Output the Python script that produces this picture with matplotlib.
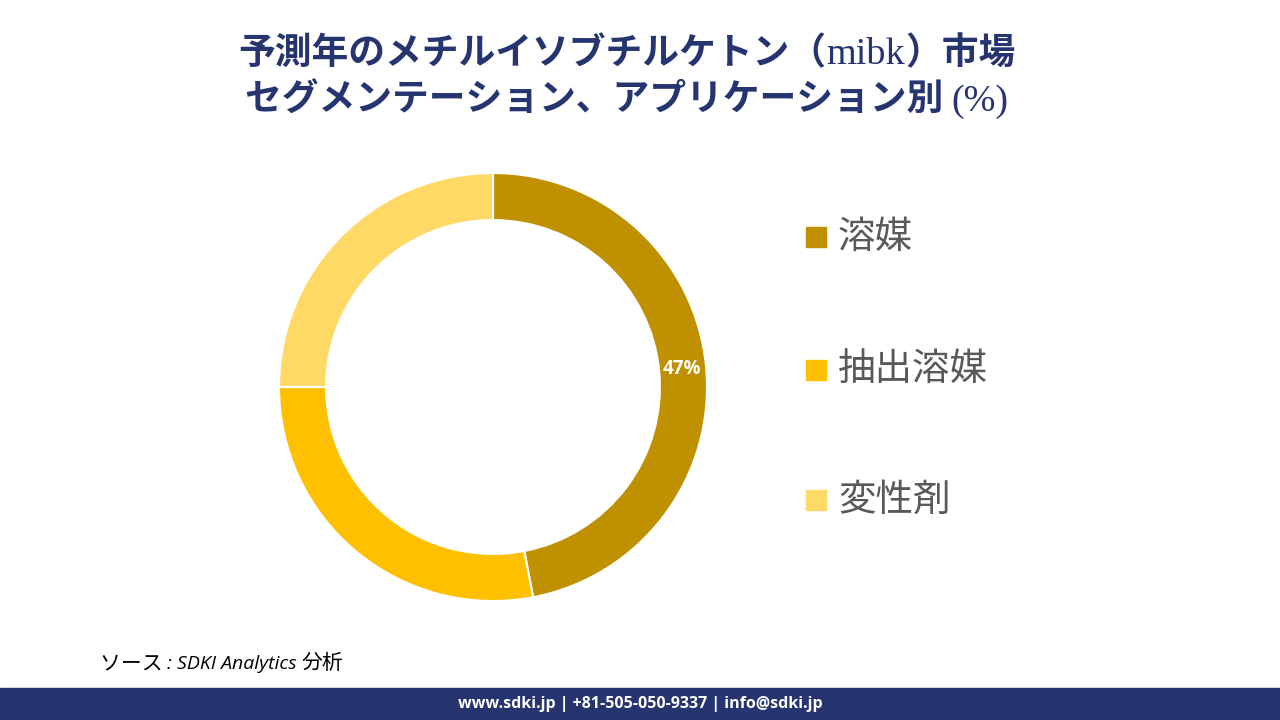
import matplotlib
matplotlib.use("Agg")
import matplotlib.pyplot as plt
import numpy as np

categories = ["溶媒", "抽出溶媒", "変性剤"]
values = [47, 28, 25]
colors = ["#BF9000", "#FFC000", "#FFD966"]
label_shown = [True, False, False]

title_line1 = [("予測年のメチルイソブチルケトン（", "cjk"), ("mibk", "serif"), ("）市場", "cjk")]
title_line2 = [("セグメンテーション、アプリケーション別 ", "cjk"), ("(%)", "serif")]
source_parts = [("ソース ", "cjk"), (": SDKI Analytics ", "latin"), ("分析", "cjk")]
footer_text = "www.sdki.jp | +81-505-050-9337 | info@sdki.jp"

plt.rcParams['font.family'] = ['Noto Sans CJK JP', 'DejaVu Sans']

W, H = 1280, 720
fig = plt.figure(figsize=(12.8, 7.2), dpi=100)
fig.patch.set_facecolor("white")
renderer = fig.canvas.get_renderer()

navy = "#263470"


def draw_parts(parts, x, y, ha, styles):
    texts = []
    for s, kind in parts:
        t = fig.text(0, 0, s, va="baseline", ha="left", **styles[kind])
        texts.append(t)
    widths = [t.get_window_extent(renderer).width for t in texts]
    total = sum(widths)
    start = x - total / 2 if ha == "center" else x
    cur = start
    for t, w in zip(texts, widths):
        t.set_position((cur / W, y))
        cur += w


title_styles = {
    "cjk": dict(fontsize=26.5, fontweight="bold", color=navy,
                family=["Noto Sans CJK JP", "DejaVu Sans"]),
    "serif": dict(fontsize=27.5, color=navy, family=["Liberation Serif", "DejaVu Serif"]),
}
draw_parts(title_line1, 627, 1 - 64 / H, "center", title_styles)
draw_parts(title_line2, 627, 1 - 111 / H, "center", title_styles)

# Donut
cx, cy, r = 493, 387, 214
ax = fig.add_axes([(cx - r) / W, (H - cy - r) / H, 2 * r / W, 2 * r / H])
wedges, _ = ax.pie(values, colors=colors, startangle=90, counterclock=False,
                   radius=1.0,
                   wedgeprops=dict(width=0.22, edgecolor="white", linewidth=1.5))
ax.set_xlim(-1, 1)
ax.set_ylim(-1, 1)
ax.set_aspect("equal")
ax.axis("off")

total_v = sum(values)
for w, v, show in zip(wedges, values, label_shown):
    if not show:
        continue
    ang = np.deg2rad((w.theta1 + w.theta2) / 2)
    rr = 0.885
    ax.text(rr * np.cos(ang), rr * np.sin(ang), f"{round(100 * v / total_v)}%",
            ha="center", va="center", color="white", fontsize=13.5,
            fontweight="bold", family=["Open Sans", "DejaVu Sans"])

# Legend
leg_y = [237, 370, 500]
for cat, col, y in zip(categories, colors, leg_y):
    fig.patches.append(plt.Rectangle((806 / W, 1 - (y + 10) / H), 20 / W, 20 / H,
                                     transform=fig.transFigure, color=col))
    fig.text(838 / W, 1 - y / H, cat, ha="left", va="center",
             fontsize=27, color="#595959")

# Source
source_styles = {
    "cjk": dict(fontsize=15, color="black", family=["Noto Sans CJK JP", "DejaVu Sans"]),
    "latin": dict(fontsize=14, color="black", style="italic",
                  family=["Open Sans", "DejaVu Sans"]),
}
draw_parts(source_parts, 100, 1 - 669 / H, "left", source_styles)

# Footer band
fig.patches.append(plt.Rectangle((0, 0), 1, 32 / H, transform=fig.transFigure,
                                 color=navy))
fig.text(640 / W, 1 - 704 / H, footer_text, ha="center", va="center",
         fontsize=11.5, fontweight="bold", color="white",
         family=["Open Sans", "DejaVu Sans"])

fig.savefig("out.png", dpi=100, facecolor="white")
